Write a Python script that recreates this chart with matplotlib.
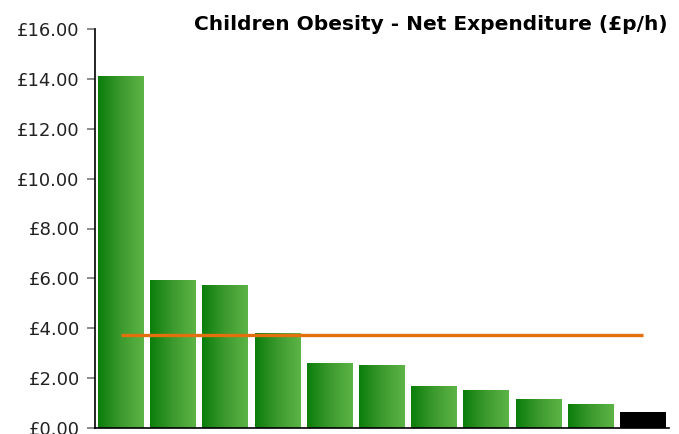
import numpy as np
import matplotlib
matplotlib.use('Agg')
import matplotlib.pyplot as plt
from matplotlib.colors import LinearSegmentedColormap

# values
spend = [14.11, 5.93, 5.73, 3.81, 2.61, 2.53, 1.68, 1.52, 1.16, 0.96, 0.64]
highlight = [False] * 10 + [True]
average = 3.72
yticks = [0, 2, 4, 6, 8, 10, 12, 14, 16]
title = 'Children Obesity - Net Expenditure (£p/h)'

plt.rcParams['font.family'] = ['DejaVu Sans']

fig = plt.figure(figsize=(6.79, 4.34), dpi=100)
ax = fig.add_axes([95/679, 1 - 428/434, 574/679, 399/434])

x = np.arange(len(spend))
bars = ax.bar(x, spend, width=0.88, color='none', edgecolor='none', zorder=2)

green = LinearSegmentedColormap.from_list('g', ['#0a7e0a', '#3d9a2e', '#5db446'])
grad = np.linspace(0, 1, 256).reshape(1, -1)
for b, hl in zip(bars, highlight):
    x0, w, h = b.get_x(), b.get_width(), b.get_height()
    if hl:
        b.set_facecolor('black')
        continue
    im = ax.imshow(grad, cmap=green, aspect='auto', extent=[x0, x0 + w, 0, h],
                   zorder=2, interpolation='bicubic')
    im.set_clip_path(b)

ax.plot(x, [average] * len(x), color='#e2700f', lw=2.4, zorder=3,
        solid_capstyle='butt')

ax.set_xlim(-0.5, len(spend) - 0.5)
ax.set_ylim(0, 16)
ax.set_yticks(yticks)
ax.set_yticklabels(['£%.2f' % v for v in yticks], fontsize=13, color='#222222')
ax.set_xticks([])
ax.tick_params(axis='y', direction='out', length=6, width=1.2, color='#777777', pad=5)
for s in ['top', 'right']:
    ax.spines[s].set_visible(False)
ax.spines['left'].set_linewidth(1.2)
ax.spines['bottom'].set_linewidth(1.2)

fig.text(668/679, 1 - 24/434, title, ha='right', va='center',
         fontsize=14.5, fontweight='bold')

fig.savefig('out.png', dpi=100)
